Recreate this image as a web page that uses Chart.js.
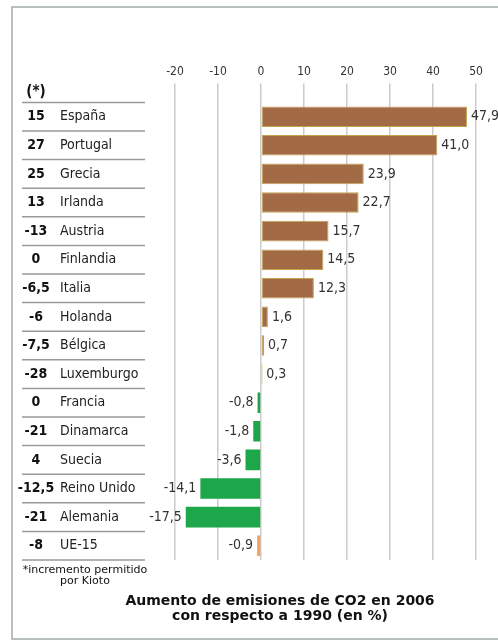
<!DOCTYPE html>
<html>
<head>
<meta charset="utf-8">
<script src="https://cdn.jsdelivr.net/npm/chart.js@4/dist/chart.umd.min.js"></script>
<style>
  html, body { margin: 0; padding: 0; background: #fff; overflow: hidden; }
  canvas { display: block; }
</style>
</head>
<body>
<canvas id="emisiones" width="498" height="644"></canvas>
<script>
// Países y aumento de emisiones 2006 vs 1990 (%)
const paises = ['España', 'Portugal', 'Grecia', 'Irlanda', 'Austria', 'Finlandia', 'Italia', 'Holanda',
    'Bélgica', 'Luxemburgo', 'Francia', 'Dinamarca', 'Suecia', 'Reino Unido', 'Alemania', 'UE-15'];
const aumento = [47.9, 41.0, 23.9, 22.7, 15.7, 14.5, 12.3, 1.6, 0.7, 0.3, -0.8, -1.8, -3.6, -14.1, -17.5, -0.9];
// incremento permitido por Kioto (columna (*))
const kioto = ['15', '27', '25', '13', '-13', '0', '-6,5', '-6', '-7,5', '-28', '0', '-21', '4', '-12,5', '-21', '-8'];
const ejeX = [-20, -10, 0, 10, 20, 30, 40, 50];
const titulo = ['Aumento de emisiones de CO2 en 2006', 'con respecto a 1990 (en %)'];
const nota = ['*incremento permitido', 'por Kioto'];

const MARRON = '#a36b45';
const VERDE = '#1ea64a';
const VERDE_CLARO = '#9fd44c';
const NARANJA = '#f5a15a';
const FUENTE = "'Liberation Sans Narrow', 'DejaVu Sans Condensed', sans-serif";
const FUENTE_TIT = "'DejaVu Sans', sans-serif";

function colorBarra(ctx) {
    const nombre = paises[ctx.dataIndex];
    if (nombre === 'UE-15') return NARANJA;
    if (nombre === 'Luxemburgo') return VERDE_CLARO;
    return ctx.raw >= 0 ? MARRON : VERDE;
}

const coma = v => v.toFixed(1).replace('.', ',');

// marco gris alrededor del gráfico
const marco = {
    id: 'marco',
    beforeDraw(chart) {
        const c = chart.ctx;
        c.save();
        c.strokeStyle = '#b9c0c0';
        c.lineWidth = 2;
        c.beginPath();
        c.moveTo(498, 7);
        c.lineTo(12, 7);
        c.lineTo(12, 639);
        c.lineTo(498, 639);
        c.stroke();
        c.restore();
    }
};

// tabla de la izquierda, valores de las barras, nota y titulo
const extras = {
    id: 'extras',
    afterDatasetsDraw(chart) {
        const c = chart.ctx;
        const yS = chart.scales.y;
        const area = chart.chartArea;
        const banda = (area.bottom - area.top) / paises.length;
        const meta = chart.getDatasetMeta(0);

        c.save();
        c.textBaseline = 'middle';

        // cabecera y lineas separadoras
        c.strokeStyle = '#9a9a9a';
        c.lineWidth = 1.5;
        c.fillStyle = '#111';
        c.font = 'bold 15px ' + FUENTE;
        c.textAlign = 'center';
        c.fillText('(*)', 36, area.top - 10);
        c.beginPath();
        c.moveTo(22, area.top);
        c.lineTo(145, area.top);
        c.stroke();

        paises.forEach((p, i) => {
            const y = yS.getPixelForValue(i);
            c.font = 'bold 14px ' + FUENTE;
            c.textAlign = 'center';
            c.fillStyle = '#111';
            c.fillText(kioto[i], 36, y);
            const fin = 36 + c.measureText(kioto[i]).width / 2;
            c.font = '14px ' + FUENTE;
            c.textAlign = 'left';
            c.fillStyle = '#222';
            c.fillText(p, Math.max(60, fin + 3), y);
            c.beginPath();
            c.moveTo(22, y + banda / 2);
            c.lineTo(145, y + banda / 2);
            c.stroke();

            // valor de la barra
            const bar = meta.data[i];
            const v = aumento[i];
            c.font = '14px ' + FUENTE;
            c.fillStyle = '#333';
            if (v >= 0) {
                c.textAlign = 'left';
                c.fillText(coma(v), bar.x + 4, y);
            } else {
                c.textAlign = 'right';
                c.fillText(coma(v), bar.x - 4, y);
            }
        });

        // nota al pie
        c.fillStyle = '#111';
        c.font = '11px ' + FUENTE_TIT;
        c.textAlign = 'center';
        c.fillText(nota[0], 85, 570);
        c.fillText(nota[1], 85, 581);

        // titulo
        c.font = 'bold 14px ' + FUENTE_TIT;
        c.fillText(titulo[0], 280, 601);
        c.fillText(titulo[1], 280, 616);
        c.restore();
    }
};

new Chart(document.getElementById('emisiones'), {
    type: 'bar',
    data: {
        labels: paises,
        datasets: [{
            data: aumento,
            backgroundColor: colorBarra,
            borderColor: ctx => ctx.raw >= 0.5 ? '#c2a24e' : colorBarra(ctx),
            borderWidth: ctx => ctx.raw >= 0.5 ? 1 : 0,
            borderSkipped: false,
            barPercentage: 0.72,
            categoryPercentage: 1
        }]
    },
    options: {
        indexAxis: 'y',
        responsive: false,
        animation: false,
        layout: {
            padding: { left: 175, right: 22, top: 61, bottom: 84 }
        },
        scales: {
            x: {
                position: 'top',
                min: ejeX[0],
                max: ejeX[ejeX.length - 1],
                afterBuildTicks: s => { s.ticks = ejeX.map(v => ({ value: v })); },
                ticks: {
                    color: '#333',
                    font: { family: FUENTE, size: 12 },
                    maxRotation: 0,
                    padding: 4
                },
                grid: {
                    color: '#cccccc',
                    lineWidth: 1.5,
                    tickLength: 19
                },
                border: { display: false }
            },
            y: { display: false }
        },
        plugins: {
            legend: { display: false },
            tooltip: { enabled: false }
        }
    },
    plugins: [marco, extras]
});
</script>
</body>
</html>
